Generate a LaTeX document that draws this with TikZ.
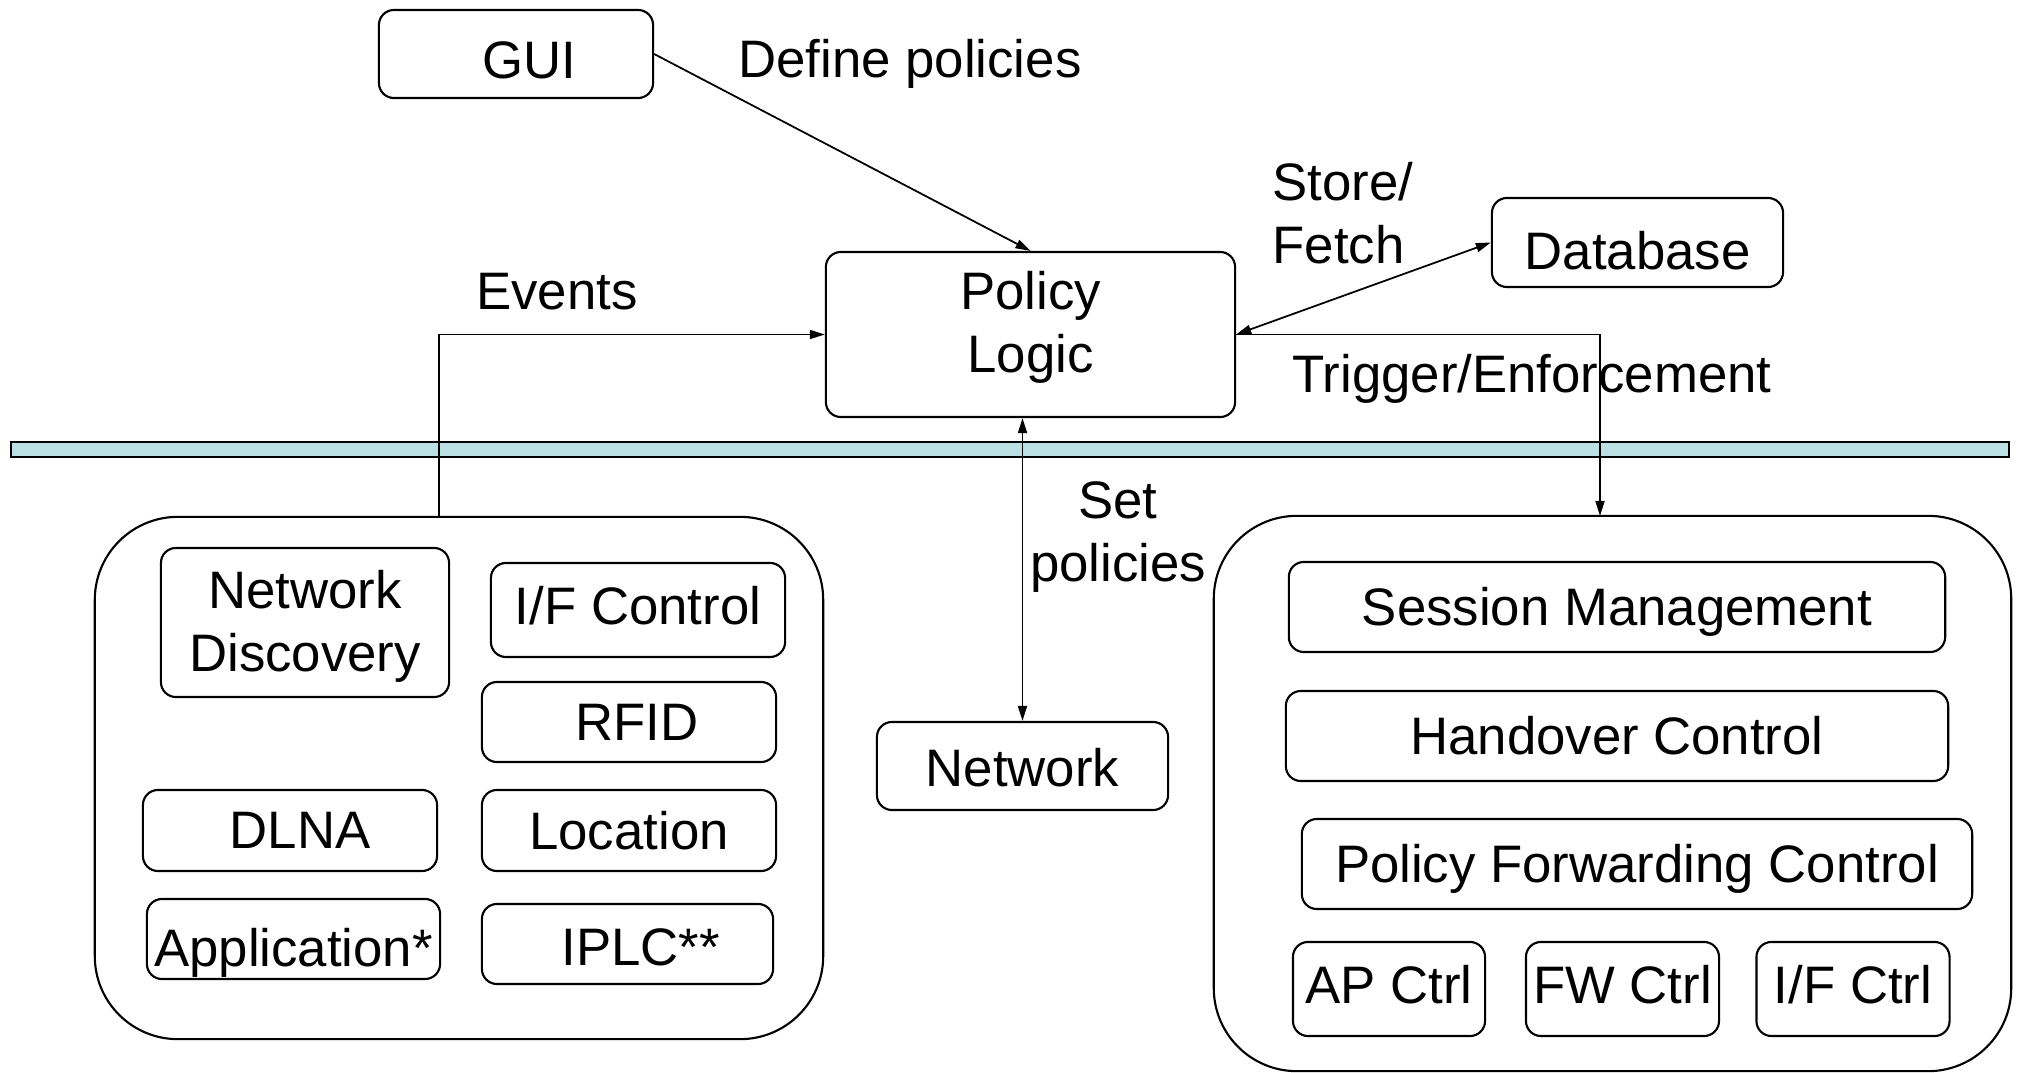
\documentclass[tikz,border=0pt]{standalone}
\usepackage{fontspec}
\setmainfont{Liberation Sans}
\usetikzlibrary{arrows.meta}
\definecolor{barcyan}{RGB}{186,224,227}
% move a text inside its box: extra left space, then raise/lower
\newcommand{\shiftxt}[3]{\hspace*{#1}\raisebox{#2}[\height][\depth]{#3}}

\begin{document}
\begin{tikzpicture}[x=0.01cm, y=-0.01cm, >={Triangle[length=1.5mm,width=0.9mm]},
		font=\fontsize{15}{18}\selectfont,
		box/.style={draw, rounded corners=0.15cm, line width=0.6pt, inner sep=0pt, align=center},
		bigbox/.style={draw, rounded corners=0.83cm, line width=0.6pt, inner sep=0pt},
		lbl/.style={inner sep=0pt, align=center}]
		\useasboundingbox (0,0) rectangle (2017,1073);
		% bar between the two layers
		\draw[fill=barcyan, line width=0.8pt] (11,442) rectangle (2009,457);
		% upper layer
		\node[box, minimum width=2.74cm, minimum height=0.88cm] (gui) at (516,54) {\shiftxt{0.26cm}{-0.06cm}{GUI}};
		\node[box, minimum width=4.09cm, minimum height=1.65cm] (logic) at (1030.5,334.5)
			{\shiftxt{0cm}{0.06cm}{\begin{tabular}{@{}c@{}}Policy\\Logic\end{tabular}}};
		\node[box, minimum width=2.91cm, minimum height=0.89cm] (db) at (1637.5,242.5) {\shiftxt{0cm}{-0.08cm}{Database}};
		\node[box, minimum width=2.91cm, minimum height=0.88cm] (net) at (1022.5,766) {\shiftxt{0cm}{-0.02cm}{Network}};
		% lower layer, left
		\node[bigbox, minimum width=7.28cm, minimum height=5.22cm] (sense) at (459,778) {};
		\node[box, minimum width=2.88cm, minimum height=1.49cm] (disc) at (305,622.5)
			{\shiftxt{0cm}{-0.05cm}{\begin{tabular}{@{}c@{}}Network\\Discovery\end{tabular}}};
		\node[box, minimum width=2.94cm, minimum height=0.94cm] (ifc) at (638,610) {\shiftxt{0cm}{0.04cm}{I/F Control}};
		\node[box, minimum width=2.94cm, minimum height=0.80cm] (rfid) at (629,722) {\shiftxt{0.16cm}{0cm}{RFID}};
		\node[box, minimum width=2.94cm, minimum height=0.81cm] (dlna) at (290,830.5) {\shiftxt{0.2cm}{0cm}{DLNA}};
		\node[box, minimum width=2.94cm, minimum height=0.81cm] (loc) at (629,830.5) {Location};
		\node[box, minimum width=2.93cm, minimum height=0.80cm] (app) at (293.5,939) {\shiftxt{0cm}{-0.14cm}{Application*}};
		\node[box, minimum width=2.91cm, minimum height=0.80cm] (iplc) at (627.5,944) {\shiftxt{0.26cm}{-0.03cm}{IPLC**}};
		% lower layer, right
		\node[bigbox, minimum width=7.97cm, minimum height=5.55cm] (ctrl) at (1612.5,793.5) {};
		\node[box, minimum width=6.56cm, minimum height=0.90cm] (sess) at (1617,607) {\shiftxt{0cm}{-0.05cm}{Session Management}};
		\node[box, minimum width=6.62cm, minimum height=0.90cm] (hand) at (1617,736) {Handover Control};
		\node[box, minimum width=6.70cm, minimum height=0.90cm] (fwd) at (1637,864) {\shiftxt{0cm}{-0.05cm}{Policy Forwarding Control}};
		\node[box, minimum width=1.92cm, minimum height=0.94cm] (ap) at (1389,989) {\shiftxt{0cm}{0.04cm}{AP Ctrl}};
		\node[box, minimum width=1.93cm, minimum height=0.94cm] (fw) at (1622.5,989) {\shiftxt{0cm}{0.04cm}{FW Ctrl}};
		\node[box, minimum width=1.93cm, minimum height=0.94cm] (ifctl) at (1853,989) {\shiftxt{0cm}{0.04cm}{I/F Ctrl}};
		% labels
		\node[lbl] (deflbl) at (910,64) {Define policies};
		\node[lbl, align=left] (stlbl) at (1343,213) {Store/\\Fetch};
		\node[lbl] (evlbl) at (557,292) {Events};
		\node[lbl] (trlbl) at (1532,379) {Trigger/Enforcement};
		\node[lbl] (setlbl) at (1118,537) {Set\\policies};
		% connectors
		\coordinate (evt) at (439,517);
		\coordinate (trig) at (1600,516);
		\draw[->, line width=0.5pt] (gui.east) -- (logic.north);
		\draw[<->, line width=0.5pt] (logic.east) -- (db.west);
		\draw[->, line width=0.5pt] (evt) |- (logic.west);
		\draw[->, line width=0.5pt] (logic.east) -| (trig);
		\draw[<->, line width=0.5pt] (net.north |- logic.south) -- (net.north);
\end{tikzpicture}
\end{document}
